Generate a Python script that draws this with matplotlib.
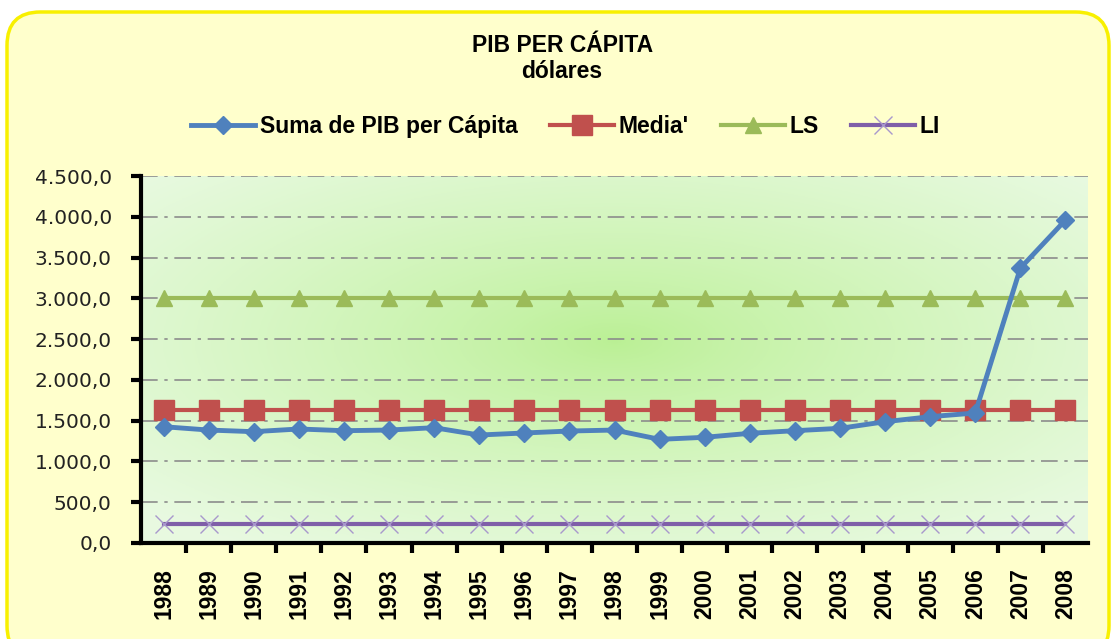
import matplotlib.pyplot as plt
import numpy as np
from matplotlib.patches import FancyBboxPatch

# ---------------------------
# Data
# ---------------------------
years = [str(y) for y in range(1988, 2009)]
pib = [1426, 1385, 1365, 1398, 1377, 1385, 1414, 1324, 1349, 1373, 1385,
       1271, 1296, 1345, 1377, 1406, 1487, 1549, 1594, 3370, 3960]
media = [1625] * len(years)
ls = [3000] * len(years)
li = [230] * len(years)

fig = plt.figure(figsize=(11.13, 6.39), dpi=100)
fig.patch.set_facecolor("white")

# rounded yellow frame (pixel based)
W, H = 1113, 639
frame = FancyBboxPatch((7 / W, -20 / H), 1102 / W, 647 / H,
                       boxstyle="round,pad=0,rounding_size=0.03",
                       transform=fig.transFigure, facecolor="#FFFFCC", edgecolor="#F8F000",
                       linewidth=2.5, zorder=-10, mutation_aspect=W / H)
fig.patches.append(frame)

ax = fig.add_axes([141 / W, 1 - 543 / H, 947 / W, 367 / H])
ax.set_facecolor("none")

# radial green gradient background
gx, gy = np.meshgrid(np.linspace(-1, 1, 300), np.linspace(-1, 1, 200))
r = np.clip(np.sqrt((gx - 0.0) ** 2 + (gy + 0.1) ** 2) / 1.35, 0, 1) ** 0.8
c_in = np.array([0.73, 0.94, 0.58])
c_out = np.array([0.91, 0.98, 0.88])
img = c_in[None, None, :] * (1 - r[..., None]) + c_out[None, None, :] * r[..., None]
ax.imshow(img, extent=[0, 1, 0, 1], transform=ax.transAxes, aspect="auto", zorder=0)

x = np.arange(len(years))

ax.plot(x, li, color="#7F5FA8", lw=3, marker="x", ms=13, mew=1, mec="#A898CC", zorder=3,
        label="LI")
ax.plot(x, ls, color="#9BBB59", lw=3, marker="^", ms=12, zorder=3, label="LS")
ax.plot(x, media, color="#C0504D", lw=3, marker="s", ms=14, zorder=4, label="Media'")
ax.plot(x, pib, color="#4F81BD", lw=3.5, marker="D", ms=9, zorder=5,
        label="Suma de PIB per Cápita")

ax.set_xlim(-0.5, len(years) - 0.5)
ax.set_ylim(0, 4500)
ax.set_yticks(np.arange(0, 4501, 500))
ax.set_yticklabels([f"{int(v):,}".replace(",", ".") + ",0" for v in np.arange(0, 4501, 500)],
                   fontsize=14.5, family="DejaVu Sans", color="#222222")
ax.set_xticks(x)
ax.set_xticklabels(years, rotation=90, fontsize=16.5, fontweight="bold", family="Liberation Sans")
ax.set_xticks(np.arange(0.5, len(years) - 0.5, 1), minor=True)
ax.tick_params(axis="x", which="major", length=0, pad=18)
ax.tick_params(axis="x", which="minor", length=7, width=3, direction="out")
ax.tick_params(axis="y", length=7, width=3, direction="out", pad=14)

ax.grid(axis="y", color="#8C8C8C", linestyle=(0, (10, 4, 2, 4)), lw=1.2, zorder=1)
ax.set_axisbelow(False)
for s in ["top", "right"]:
    ax.spines[s].set_visible(False)
for s in ["left", "bottom"]:
    ax.spines[s].set_linewidth(3)
    ax.spines[s].set_zorder(6)

fig.text(0.505, 1 - 52 / H, "PIB PER CÁPITA", ha="center", fontsize=16.5, fontweight="bold",
         family="Liberation Sans")
fig.text(0.505, 1 - 78 / H, "dólares", ha="center", fontsize=16.5, fontweight="bold",
         family="Liberation Sans")

handles, labels = ax.get_legend_handles_labels()
order = [3, 2, 1, 0]
fig.legend([handles[i] for i in order], [labels[i] for i in order], loc="center",
           bbox_to_anchor=(0.508, 1 - 127 / H), ncol=4, frameon=False, handlelength=2.8,
           columnspacing=1.4, handletextpad=0.2,
           prop={"family": "Liberation Sans", "weight": "bold", "size": 16.5})

fig.savefig("out.png", dpi=100)
